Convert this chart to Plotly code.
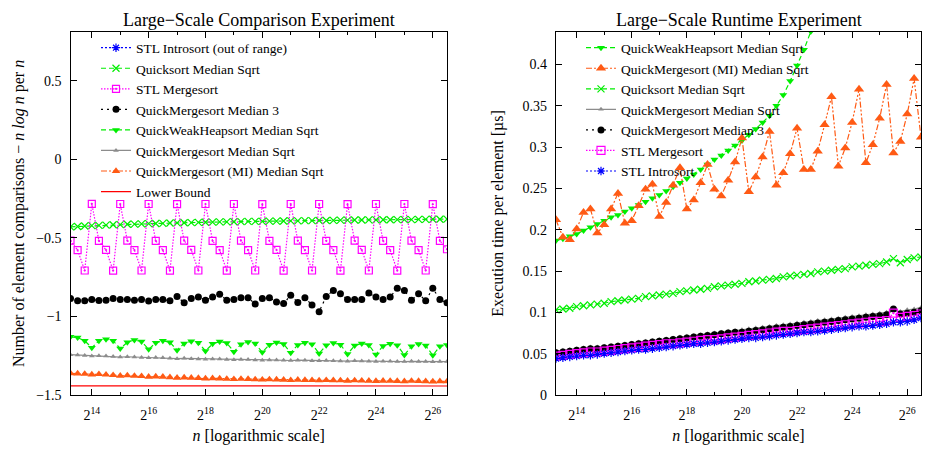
import math
import plotly.graph_objects as go

# ---------------- data ----------------
log2_n = [13.25, 13.5, 13.75, 14.0, 14.25, 14.5, 14.75, 15.0, 15.25, 15.5, 15.75, 16.0,
          16.25, 16.5, 16.75, 17.0, 17.25, 17.5, 17.75, 18.0, 18.25, 18.5, 18.75, 19.0,
          19.25, 19.5, 19.75, 20.0, 20.25, 20.5, 20.75, 21.0, 21.25, 21.5, 21.75, 22.0,
          22.25, 22.5, 22.75, 23.0, 23.25, 23.5, 23.75, 24.0, 24.25, 24.5, 24.75, 25.0,
          25.25, 25.5, 25.75, 26.0, 26.25, 26.5]
n_values = [2 ** e for e in log2_n]

major_exps = [14, 16, 18, 20, 22, 24, 26]
minor_exps = [15, 17, 19, 21, 23, 25]

# --- comparisons: (comparisons - n log n) / n ---
cmp_introsort = [2.55, 2.60, 2.64, 2.69, 2.74, 2.78, 2.83, 2.88, 2.92, 2.97, 3.02, 3.06,
                 3.11, 3.16, 3.20, 3.25, 3.30, 3.34, 3.39, 3.44, 3.48, 3.53, 3.58, 3.62,
                 3.67, 3.72, 3.76, 3.81, 3.86, 3.90, 3.95, 4.00, 4.04, 4.09, 4.14, 4.18,
                 4.23, 4.28, 4.32, 4.37, 4.42, 4.46, 4.51, 4.56, 4.60, 4.65, 4.70, 4.74,
                 4.79, 4.84, 4.88, 4.93, 4.98, 5.02]
cmp_quicksort = [-0.430, -0.428, -0.425, -0.423, -0.421, -0.419, -0.417, -0.416,
                 -0.414, -0.413, -0.411, -0.410, -0.409, -0.408, -0.406, -0.405,
                 -0.404, -0.403, -0.402, -0.401, -0.400, -0.399, -0.399, -0.398,
                 -0.397, -0.396, -0.396, -0.395, -0.394, -0.394, -0.393, -0.392,
                 -0.392, -0.391, -0.391, -0.390, -0.390, -0.389, -0.388, -0.388,
                 -0.387, -0.387, -0.386, -0.386, -0.385, -0.385, -0.384, -0.384,
                 -0.384, -0.383, -0.383, -0.382, -0.382, -0.381]
cmp_mergesort = [-0.518, -0.578, -0.708, -0.284, -0.519, -0.577, -0.709, -0.285,
                 -0.518, -0.578, -0.708, -0.285, -0.519, -0.578, -0.709, -0.286,
                 -0.518, -0.577, -0.708, -0.285, -0.519, -0.578, -0.709, -0.285,
                 -0.518, -0.578, -0.708, -0.286, -0.519, -0.577, -0.709, -0.285,
                 -0.518, -0.578, -0.708, -0.285, -0.519, -0.578, -0.709, -0.286,
                 -0.518, -0.577, -0.708, -0.285, -0.519, -0.578, -0.709, -0.285,
                 -0.518, -0.578, -0.708, -0.286, -0.519, -0.573]
cmp_qms_med3 = [-0.887, -0.901, -0.901, -0.893, -0.899, -0.897, -0.887, -0.893,
                -0.893, -0.897, -0.893, -0.903, -0.893, -0.893, -0.901, -0.873,
                -0.914, -0.887, -0.877, -0.897, -0.877, -0.860, -0.897, -0.893,
                -0.881, -0.881, -0.922, -0.887, -0.881, -0.908, -0.918, -0.866,
                -0.912, -0.881, -0.928, -0.970, -0.873, -0.835, -0.856, -0.893,
                -0.893, -0.893, -0.852, -0.877, -0.893, -0.877, -0.821, -0.835,
                -0.897, -0.856, -0.901, -0.821, -0.893, -0.914]
cmp_qwhs = [-1.130, -1.135, -1.155, -1.200, -1.155, -1.145, -1.155, -1.205,
            -1.165, -1.150, -1.160, -1.210, -1.168, -1.155, -1.165, -1.215,
            -1.172, -1.158, -1.168, -1.220, -1.175, -1.160, -1.170, -1.225,
            -1.178, -1.163, -1.173, -1.228, -1.180, -1.166, -1.176, -1.232,
            -1.182, -1.168, -1.178, -1.236, -1.184, -1.170, -1.180, -1.240,
            -1.186, -1.172, -1.182, -1.243, -1.188, -1.174, -1.184, -1.246,
            -1.190, -1.176, -1.186, -1.248, -1.190, -1.182]
cmp_qms_sqrt = [-1.244, -1.246, -1.249, -1.252, -1.250, -1.253, -1.256, -1.259,
                -1.257, -1.259, -1.262, -1.264, -1.262, -1.264, -1.267, -1.269,
                -1.267, -1.269, -1.271, -1.273, -1.271, -1.272, -1.274, -1.276,
                -1.274, -1.275, -1.277, -1.279, -1.277, -1.278, -1.280, -1.281,
                -1.279, -1.280, -1.282, -1.283, -1.281, -1.282, -1.284, -1.285,
                -1.283, -1.284, -1.285, -1.287, -1.285, -1.286, -1.287, -1.288,
                -1.286, -1.287, -1.288, -1.289, -1.287, -1.288]
cmp_qms_mi = [-1.362, -1.364, -1.366, -1.370, -1.368, -1.371, -1.374, -1.378,
              -1.376, -1.379, -1.381, -1.385, -1.383, -1.385, -1.388, -1.391,
              -1.389, -1.391, -1.393, -1.396, -1.394, -1.396, -1.398, -1.400,
              -1.398, -1.399, -1.401, -1.403, -1.401, -1.402, -1.404, -1.406,
              -1.404, -1.405, -1.406, -1.408, -1.406, -1.407, -1.408, -1.410,
              -1.408, -1.409, -1.410, -1.412, -1.410, -1.411, -1.412, -1.413,
              -1.411, -1.412, -1.413, -1.415, -1.413, -1.414]
cmp_lower_bound = [-1.442, -1.442, -1.443, -1.443, -1.443, -1.443, -1.443, -1.443,
                   -1.443, -1.443, -1.443, -1.443, -1.443, -1.443, -1.443, -1.443,
                   -1.443, -1.443, -1.443, -1.443, -1.443, -1.443, -1.443, -1.443,
                   -1.443, -1.443, -1.443, -1.443, -1.443, -1.443, -1.443, -1.443,
                   -1.443, -1.443, -1.443, -1.443, -1.443, -1.443, -1.443, -1.443,
                   -1.443, -1.443, -1.443, -1.443, -1.443, -1.443, -1.443, -1.443,
                   -1.443, -1.443, -1.443, -1.443, -1.443, -1.443]

# --- runtime: microseconds per element ---
rt_qwhs = [0.187, 0.189, 0.192, 0.195, 0.199, 0.203, 0.207, 0.211,
           0.215, 0.218, 0.222, 0.226, 0.230, 0.234, 0.238, 0.242,
           0.247, 0.252, 0.257, 0.262, 0.267, 0.273, 0.279, 0.285,
           0.290, 0.296, 0.302, 0.308, 0.315, 0.322, 0.330, 0.338,
           0.350, 0.363, 0.380, 0.399, 0.418, 0.440, 0.465, 0.490,
           0.520, 0.550, 0.580, 0.610, 0.640, 0.680, 0.720, 0.760,
           0.800, 0.840, 0.880, 0.920, 0.960, 1.000]
rt_qms_mi = [0.212, 0.191, 0.188, 0.201, 0.221, 0.225, 0.196, 0.206,
             0.225, 0.244, 0.208, 0.211, 0.229, 0.249, 0.255, 0.216,
             0.233, 0.254, 0.275, 0.225, 0.236, 0.257, 0.279, 0.249,
             0.241, 0.260, 0.282, 0.311, 0.246, 0.264, 0.288, 0.319,
             0.254, 0.269, 0.292, 0.323, 0.273, 0.273, 0.295, 0.327,
             0.361, 0.277, 0.299, 0.330, 0.370, 0.281, 0.303, 0.335,
             0.376, 0.293, 0.307, 0.340, 0.383, 0.312]
rt_quicksort = [0.103, 0.104, 0.105, 0.107, 0.108, 0.109, 0.110, 0.111,
                0.113, 0.114, 0.115, 0.116, 0.117, 0.119, 0.120, 0.121,
                0.122, 0.123, 0.125, 0.126, 0.127, 0.128, 0.129, 0.131,
                0.132, 0.133, 0.134, 0.135, 0.137, 0.138, 0.139, 0.140,
                0.141, 0.143, 0.144, 0.145, 0.146, 0.147, 0.149, 0.150,
                0.151, 0.152, 0.153, 0.155, 0.156, 0.157, 0.158, 0.159,
                0.161, 0.165, 0.160, 0.164, 0.166, 0.167]
rt_qms_sqrt = [0.053, 0.054, 0.055, 0.056, 0.057, 0.058, 0.058, 0.059,
               0.060, 0.061, 0.062, 0.063, 0.064, 0.065, 0.066, 0.067,
               0.068, 0.069, 0.070, 0.071, 0.072, 0.073, 0.074, 0.075,
               0.076, 0.077, 0.078, 0.079, 0.080, 0.081, 0.082, 0.083,
               0.084, 0.085, 0.086, 0.087, 0.088, 0.089, 0.090, 0.091,
               0.092, 0.093, 0.094, 0.095, 0.096, 0.097, 0.098, 0.099,
               0.100, 0.102, 0.101, 0.103, 0.104, 0.106]
rt_qms_med3 = [0.051, 0.052, 0.053, 0.054, 0.055, 0.056, 0.056, 0.057,
               0.058, 0.059, 0.060, 0.061, 0.062, 0.063, 0.064, 0.065,
               0.066, 0.067, 0.068, 0.069, 0.070, 0.071, 0.072, 0.073,
               0.074, 0.075, 0.076, 0.076, 0.077, 0.078, 0.079, 0.080,
               0.081, 0.082, 0.083, 0.084, 0.085, 0.086, 0.087, 0.088,
               0.089, 0.090, 0.091, 0.092, 0.093, 0.094, 0.095, 0.096,
               0.097, 0.104, 0.098, 0.099, 0.100, 0.102]
rt_mergesort = [0.047, 0.048, 0.049, 0.050, 0.051, 0.052, 0.052, 0.053,
                0.054, 0.055, 0.056, 0.057, 0.058, 0.059, 0.060, 0.061,
                0.062, 0.062, 0.063, 0.064, 0.065, 0.066, 0.067, 0.067,
                0.068, 0.069, 0.070, 0.071, 0.072, 0.073, 0.074, 0.075,
                0.076, 0.077, 0.077, 0.078, 0.079, 0.080, 0.081, 0.082,
                0.083, 0.084, 0.085, 0.086, 0.087, 0.088, 0.089, 0.089,
                0.090, 0.099, 0.094, 0.095, 0.096, 0.098]
rt_introsort = [0.044, 0.045, 0.046, 0.047, 0.048, 0.048, 0.049, 0.050,
                0.051, 0.052, 0.053, 0.054, 0.055, 0.055, 0.056, 0.057,
                0.058, 0.059, 0.060, 0.061, 0.062, 0.062, 0.063, 0.064,
                0.065, 0.066, 0.067, 0.068, 0.069, 0.069, 0.070, 0.071,
                0.072, 0.073, 0.074, 0.075, 0.076, 0.076, 0.077, 0.078,
                0.079, 0.080, 0.081, 0.082, 0.083, 0.083, 0.084, 0.085,
                0.086, 0.088, 0.088, 0.089, 0.091, 0.093]

# ---------------- styles ----------------
FONT = "Liberation Serif"
BLUE, GREEN, MAGENTA = "#0000ff", "#00ee00", "#ff00ff"
BLACK, GRAY, ORANGE, RED = "#000000", "#8c8c8c", "#ff5a14", "#ff0000"

styles = {
    "introsort": dict(color=BLUE, dash="2px,2px", symbol="asterisk-open", size=7),
    "quicksort": dict(color=GREEN, dash="5px,3px", symbol="x-thin-open", size=7),
    "mergesort": dict(color=MAGENTA, dash="1.5px,1.5px", symbol="square-open-dot", size=7),
    "qms_med3": dict(color=BLACK, dash="2px,4px", symbol="circle", size=7),
    "qwhs": dict(color=GREEN, dash="5px,3px", symbol="triangle-down", size=7),
    "qms_sqrt": dict(color=GRAY, dash="solid", symbol="triangle-up", size=5),
    "qms_mi": dict(color=ORANGE, dash="6px,2px,2px,2px,2px,2px", symbol="triangle-up", size=9),
    "lower": dict(color=RED, dash="solid", symbol=None, size=0),
}


def add(name, key, yvals, xa, ya, legend, size=None):
    s = styles[key]
    mode = "lines" if s["symbol"] is None else "lines+markers"
    marker = None
    if s["symbol"] is not None:
        open_sym = "open" in s["symbol"]
        marker = dict(symbol=s["symbol"], size=size or s["size"], color=s["color"],
                      line=dict(color=s["color"], width=1.2 if open_sym else 0))
    fig.add_trace(go.Scatter(
        x=n_values, y=yvals, name=name, mode=mode,
        line=dict(color=s["color"], width=1.2, dash=s["dash"]),
        marker=marker, xaxis=xa, yaxis=ya, legend=legend, cliponaxis=True))


fig = go.Figure()

# left panel
add("STL Introsort (out of range)", "introsort", cmp_introsort, "x", "y", "legend")
add("Quicksort Median Sqrt", "quicksort", cmp_quicksort, "x", "y", "legend")
add("STL Mergesort", "mergesort", cmp_mergesort, "x", "y", "legend")
add("QuickMergesort Median 3", "qms_med3", cmp_qms_med3, "x", "y", "legend")
add("QuickWeakHeapsort Median Sqrt", "qwhs", cmp_qwhs, "x", "y", "legend")
add("QuickMergesort Median Sqrt", "qms_sqrt", cmp_qms_sqrt, "x", "y", "legend")
add("QuickMergesort (MI) Median Sqrt", "qms_mi", cmp_qms_mi, "x", "y", "legend", size=7.5)
add("Lower Bound", "lower", cmp_lower_bound, "x", "y", "legend")

# right panel
add("QuickWeakHeapsort Median Sqrt", "qwhs", rt_qwhs, "x2", "y2", "legend2")
add("QuickMergesort (MI) Median Sqrt", "qms_mi", rt_qms_mi, "x2", "y2", "legend2")
add("Quicksort Median Sqrt", "quicksort", rt_quicksort, "x2", "y2", "legend2")
add("QuickMergesort Median Sqrt", "qms_sqrt", rt_qms_sqrt, "x2", "y2", "legend2")
add("QuickMergesort Median 3", "qms_med3", rt_qms_med3, "x2", "y2", "legend2")
add("STL Mergesort", "mergesort", rt_mergesort, "x2", "y2", "legend2", size=8)
add("STL Introsort", "introsort", rt_introsort, "x2", "y2", "legend2")

# page body has an 8px margin: figure is drawn 8px in from the window edges
OFF = 8
W, H = 930 - 2 * OFF, 453 - 2 * OFF


def px(xp):
    return (xp - OFF) / W


def py(yp):
    return 1 - (yp - OFF) / H


L_DOM = [px(70.5), px(447)]
R_DOM = [px(556), px(921)]
Y_DOM = [py(404), py(32.5)]

xr = [13.25 * math.log10(2), 26.5 * math.log10(2)]
tickfont = dict(family=FONT, size=14, color="black")
titlefont = dict(family=FONT, size=16, color="black")

xcommon = dict(
    type="log", range=xr, tickmode="array",
    tickvals=[2 ** k for k in major_exps],
    ticktext=["2<sup>%d</sup>" % k for k in major_exps],
    ticks="inside", ticklen=6, tickwidth=1, tickcolor="black",
    minor=dict(tickmode="array", tickvals=[2 ** k for k in minor_exps],
               ticks="inside", ticklen=3, tickwidth=1, tickcolor="black", showgrid=False),
    showline=True, linecolor="black", linewidth=1.3, mirror="allticks",
    showgrid=False, zeroline=False, tickfont=tickfont, ticklabelstandoff=7,
    ticklabeloverflow="allow",
    title=dict(text="<i>n</i> [logarithmic scale]", font=titlefont, standoff=11),
)
ycommon = dict(
    ticks="inside", ticklen=6, tickwidth=1, tickcolor="black",
    showline=True, linecolor="black", linewidth=1.3, mirror="allticks",
    showgrid=False, zeroline=False, tickfont=tickfont, ticklabelstandoff=5,
    ticklabeloverflow="allow",
)

fig.update_layout(
    width=W, height=H, margin=dict(l=0, r=0, t=0, b=0),
    paper_bgcolor="white", plot_bgcolor="white",
    font=dict(family=FONT, size=14, color="black"),
    xaxis=dict(domain=L_DOM, anchor="y", **xcommon),
    xaxis2=dict(domain=R_DOM, anchor="y2", **xcommon),
    yaxis=dict(domain=Y_DOM, anchor="x", range=[-1.5, 0.81], tick0=0, dtick=0.5,
               title=dict(text="Number of element comparisons \u2212 <i>n log n</i> per <i>n</i>",
                          font=titlefont, standoff=7),
               **ycommon),
    yaxis2=dict(domain=Y_DOM, anchor="x2", range=[0, 0.4395], tick0=0, dtick=0.05,
               title=dict(text="Execution time per element [\u00b5s]", font=titlefont, standoff=14),
               **ycommon),
    legend=dict(x=px(96), y=py(33), xanchor="left", yanchor="top",
                bgcolor="rgba(0,0,0,0)", font=dict(family=FONT, size=13.5, color="black"),
                tracegroupgap=0),
    legend2=dict(x=px(581), y=py(33), xanchor="left", yanchor="top",
                 bgcolor="rgba(0,0,0,0)", font=dict(family=FONT, size=13.5, color="black"),
                 tracegroupgap=0),
    annotations=[
        dict(text="Large\u2212Scale Comparison Experiment", x=sum(L_DOM) / 2, y=py(8),
             xref="paper", yref="paper", xanchor="center", yanchor="top",
             showarrow=False, font=dict(family=FONT, size=18, color="black")),
        dict(text="Large\u2212Scale Runtime Experiment", x=sum(R_DOM) / 2, y=py(8),
             xref="paper", yref="paper", xanchor="center", yanchor="top",
             showarrow=False, font=dict(family=FONT, size=18, color="black")),
    ],
)

fig.write_html("out.html")
